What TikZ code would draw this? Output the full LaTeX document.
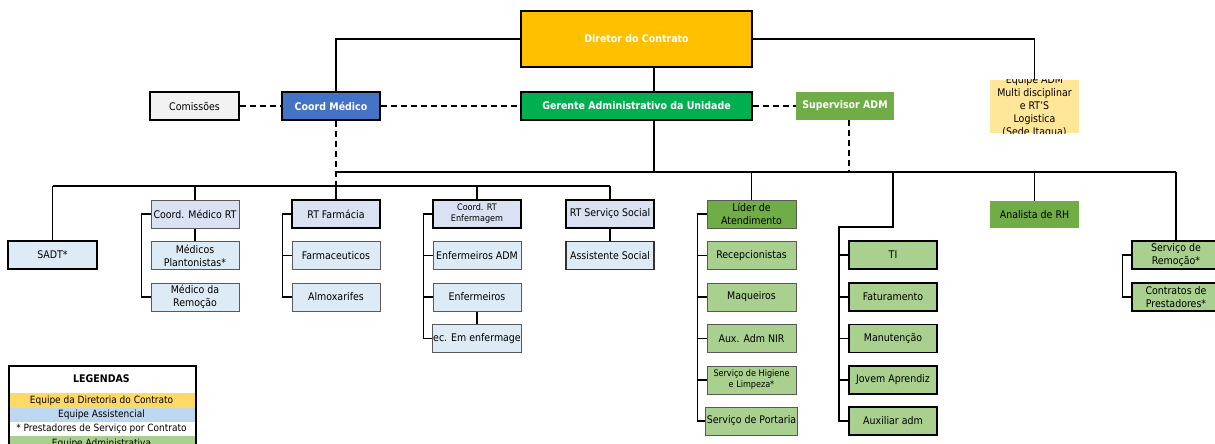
\documentclass[tikz,border=0pt]{standalone}
\usepackage{fontspec}
\setmainfont{DejaVu Sans Condensed}
\newcommand{\fsn}{\fontsize{10.5}{13}\selectfont}
\newcommand{\fsb}{\fontsize{10.5}{13}\selectfont\bfseries}
\newcommand{\fss}{\fontsize{9}{11}\selectfont}
\newcommand{\fsl}{\fontsize{10}{12}\selectfont}
\definecolor{dirc}{HTML}{FFC000}
\definecolor{cmc}{HTML}{4472C4}
\definecolor{comc}{HTML}{F2F2F2}
\definecolor{gerc}{HTML}{00B050}
\definecolor{dkg}{HTML}{70AD47}
\definecolor{eqc}{HTML}{FFE699}
\definecolor{lav}{HTML}{D9E1F2}
\definecolor{lblue}{HTML}{DDEBF7}
\definecolor{lgreen}{HTML}{A9D08E}
\definecolor{ly}{HTML}{FFD966}
\definecolor{lb}{HTML}{BDD7EE}
\begin{document}
\begin{tikzpicture}[x=1pt,y=-1pt,
  box/.style={rectangle, inner sep=1pt, minimum height=28, minimum width=88, align=center, font=\fsn, text=black},
  thickb/.style={draw=black, line width=1.5},
  thinb/.style={draw=black!65, line width=1},
  conn/.style={draw=black, line width=1.5},
  dconn/.style={draw=black, line width=1.5, dash pattern=on 6pt off 4pt},
  lrow/.style={rectangle, inner sep=0, minimum width=186, minimum height=14.5, font=\fsl}
]
\clip (0,0) rectangle (1215,444);
% top level
\node[box, thickb, fill=dirc, minimum width=231, minimum height=56, text=white, font=\fsb] (dir) at (636.5,39) {Diretor do Contrato};
\node[box, thickb, fill=comc, minimum width=89] (com) at (194.5,106) {Comissões};
\node[box, thickb, fill=cmc, minimum width=98, text=white, font=\fsb] (cm) at (331,106) {Coord Médico};
\node[box, thickb, fill=gerc, minimum width=231, text=white, font=\fsb] (ger) at (636.5,106) {Gerente Administrativo da Unidade};
\node[box, fill=dkg, minimum width=98, text=white, font=\fsb] (sup) at (845,106) {Supervisor ADM};
\node[box, fill=eqc, minimum width=89, minimum height=53] (eq) at (1034.5,106.5) {};
\begin{scope}
\clip (eq.south west) rectangle (eq.north east);
\node[align=center, font=\fsn, inner sep=0] (eqt) at (eq.center) {Equipe ADM\\Multi disciplinar\\e RT'S\\Logistica\\(Sede Itagua)};
\end{scope}
% lower level
\node[box, thickb, fill=lblue, minimum width=89] (sadt) at (52.5,255) {SADT*};
\node[box, thinb, fill=lav] (cmrt) at (195,214) {Coord. Médico RT};
\node[box, thinb, fill=lblue] (mpl) at (195,255.5) {Médicos\\Plantonistas*};
\node[box, thinb, fill=lblue] (mrem) at (195,297) {Médico da\\Remoção};
\node[box, thickb, fill=lav] (rtf) at (336,214) {RT Farmácia};
\node[box, thinb, fill=lblue] (farm) at (336,255.5) {Farmaceuticos};
\node[box, thinb, fill=lblue] (alm) at (336,297) {Almoxarifes};
\node[box, thickb, fill=lav, font=\fss] (crte) at (477,214) {Coord. RT\\Enfermagem};
\node[box, thinb, fill=lblue] (enfa) at (477,255.5) {Enfermeiros ADM};
\node[box, thinb, fill=lblue] (enf) at (477,297) {Enfermeiros};
\node[box, thinb, fill=lblue] (esp) at (477,338.5) {ec. Em enfermage};
\node[box, thickb, fill=lav] (rtss) at (610,214) {RT Serviço Social};
\node[box, draw=black!80, line width=1.2, fill=lblue] (ass) at (610,255.5) {Assistente Social};
\node[box, thinb, fill=dkg, minimum width=89] (lid) at (751.5,214) {Líder de\\Atendimento};
\node[box, thinb, fill=lgreen, minimum width=89] (rec) at (751.5,255.5) {Recepcionistas};
\node[box, thinb, fill=lgreen, minimum width=89] (maq) at (751.5,297) {Maqueiros};
\node[box, thinb, fill=lgreen, minimum width=89] (aux) at (751.5,338.5) {Aux. Adm NIR};
\node[box, thinb, fill=lgreen, minimum width=89, font=\fss] (hig) at (751.5,380) {Serviço de Higiene\\e Limpeza*};
\node[box, thinb, fill=lgreen, minimum width=89] (port) at (751.5,421) {Serviço de Portaria};
\node[box, thickb, fill=lgreen] (ti) at (893,255) {TI};
\node[box, thickb, fill=lgreen] (fat) at (893,297) {Faturamento};
\node[box, thickb, fill=lgreen] (man) at (893,338.5) {Manutenção};
\node[box, thickb, fill=lgreen] (jov) at (893,380) {Jovem Aprendiz};
\node[box, thickb, fill=lgreen] (auxa) at (893,421) {Auxiliar adm};
\node[box, fill=dkg, minimum width=89, minimum height=27] (rh) at (1034.5,214.5) {Analista de RH};
\node[box, thickb, fill=lgreen] (srem) at (1176,255) {Serviço de\\Remoção*};
\node[box, thickb, fill=lgreen] (cont) at (1176,297) {Contratos de\\Prestadores*};
% bus coordinates
\coordinate (b1L) at (336,172);
\coordinate (b1R) at (1176,172);
\coordinate (b2L) at (52.5,186);
\coordinate (b2R) at (610,186);
\coordinate (b2M) at (336,186);
\coordinate (tiK) at (893,227);
\coordinate (tiT) at (839,227);
% connectors
\draw[conn] (dir.west) -| ([xshift=5]cm.north);
\draw[conn] (dir.east) -| (eq.north);
\draw[conn] ([xshift=17.5]dir.south) -- ([xshift=17.5]ger.north);
\draw[dconn] (com.east) -- (cm.west);
\draw[dconn] (cm.east) -- (ger.west);
\draw[dconn] (ger.east) -- (sup.west);
\draw[conn] ([xshift=17.5]ger.south) -- ([xshift=17.5]ger.south |- b1L);
\draw[dconn] ([xshift=4]sup.south) -- ([xshift=4]sup.south |- b1L);
\draw[dconn] ([xshift=5]cm.south) -- (b2M);
\draw[conn] (b1L) -- (b1R);
\draw[conn] (b2L) -- (b2R);
\draw[conn] (b2L) -- (sadt.north);
\draw[conn] (cmrt.north |- b2L) -- (cmrt.north);
\draw[conn] (b2M) -- (rtf.north);
\draw[conn] (crte.north |- b2L) -- (crte.north);
\draw[conn] (b2R) -- (rtss.north);
\draw[conn] (lid.north |- b1L) -- (lid.north);
\draw[conn] (b1L -| tiK) -- (tiK) -- (tiT) |- (auxa.west);
\foreach \n in {ti,fat,man,jov} \draw[conn] (\n.west) -- (\n.west -| tiT);
\draw[conn] (rh.north |- b1L) -- (rh.north);
\draw[conn] (b1R) -- (srem.north);
\draw[conn] (cmrt.west) -- ++(-9,0) |- (mrem.west);
\draw[conn] (cmrt.south) -- (mpl.north);
\draw[conn] (rtf.west) -- ++(-9,0) |- (alm.west);
\draw[conn] (farm.west) -- ++(-9,0);
\draw[conn] (crte.west) -- ++(-9,0) |- (esp.west);
\draw[conn] (enfa.west) -- ++(-9,0);
\draw[conn] (enf.west) -- ++(-9,0);
\draw[conn] (enf.south) -- (esp.north);
\draw[conn] (rtss.south) -- (ass.north);
\draw[conn] (lid.west) -- ++(-9,0) |- (port.west);
\foreach \n in {rec,maq,aux,hig} \draw[conn] (\n.west) -- ++(-9,0);
\draw[conn] (srem.west) -- ++(-9,0) |- (cont.west);
% legend
\node[font=\fsb] (legt) at (101.5,379) {LEGENDAS};
\node[lrow, fill=ly] (l1) at (101.5,400.5) {Equipe da Diretoria do Contrato};
\node[lrow, fill=lb] (l2) at (101.5,415) {Equipe Assistencial};
\node[lrow] (l3) at (101.5,429) {* Prestadores de Serviço por Contrato};
\node[lrow, fill=lgreen] (l4) at (101.5,443.5) {Equipe Administrativa};
\node[draw=black, line width=1.5, anchor=north west, minimum width=187, minimum height=95, inner sep=0] (leg) at (8,365) {};
\end{tikzpicture}
\end{document}
